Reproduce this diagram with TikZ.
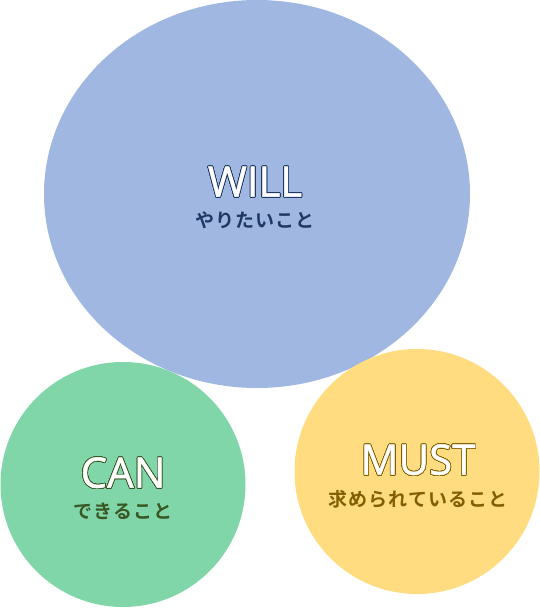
\documentclass[tikz,border=0pt]{standalone}
\usepackage{fontspec}
\setmainfont{Open Sans}
\newfontfamily\titlefont[FakeBold=1.2]{Open Sans}
\newfontfamily\jpfont[LetterSpace=6]{Noto Sans CJK JP Bold}
\usepackage[copies]{contour}
\contourlength{0.7pt}
\usetikzlibrary{positioning,shapes.geometric}
\definecolor{willfill}{RGB}{160,183,225}
\definecolor{canfill}{RGB}{128,214,168}
\definecolor{mustfill}{RGB}{255,220,128}
\definecolor{willtext}{RGB}{32,56,100}
\definecolor{cantext}{RGB}{56,87,35}
\definecolor{musttext}{RGB}{127,96,0}
\tikzset{main circle/.style={circle,minimum size=245pt,inner sep=0pt},
	title node/.style={inner sep=0pt,font=\titlefont\fontsize{42}{42}\selectfont},
	sub node/.style={inner sep=0pt,font=\jpfont\fontsize{19}{19}\selectfont},
}
\newcommand{\outlined}[2]{\contour[32]{#1}{\textcolor{white}{#2}}}

\begin{document}
\begin{tikzpicture}[x=1pt,y=1pt,node distance = 14pt]
	\useasboundingbox (0,0) rectangle (540,608);
	\node[ellipse,fill=willfill,minimum width=426pt,minimum height=388pt,inner sep=0pt] (will) at (257,414){};
	\node[main circle,fill=canfill] (can) at (123,123.5){};
	\node[main circle,fill=mustfill] (must) at (417,136.5){};
	
	% labels
	\node[title node] (will title) at (255,426){\outlined{willtext}{WILL}};
	\node[sub node,text=willtext] (will sub)[below = of will title]{やりたいこと};
	\node[title node] (can title) at (123,135){\outlined{cantext}{CAN}};
	\node[sub node,text=cantext] (can sub)[below = of can title]{できること};
	\node[title node] (must title) at (418,148){\outlined{musttext}{MUST}};
	\node[sub node,text=musttext] (must sub)[below = of must title]{求められていること};
\end{tikzpicture}
\end{document}
